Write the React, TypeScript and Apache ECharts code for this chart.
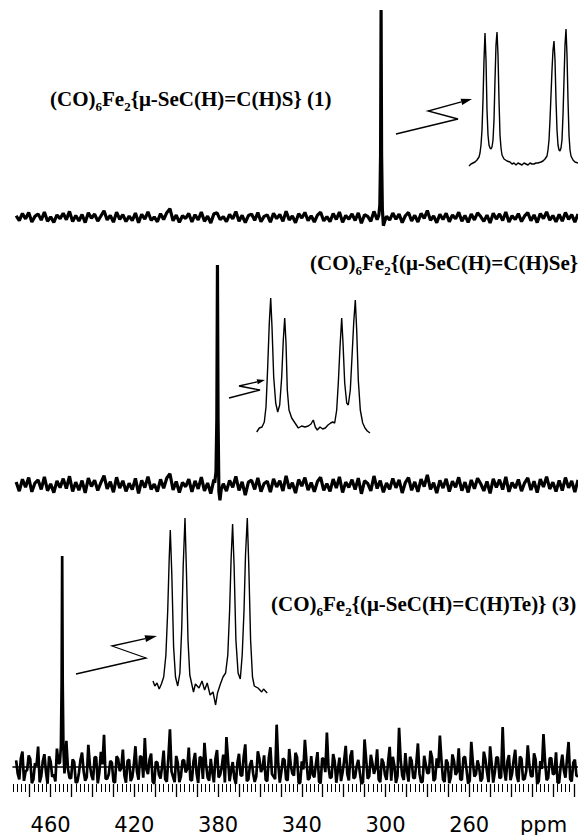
import React, { useEffect, useRef } from "react";
import * as echarts from "echarts";

// ppm axis
const ppmMin = 208;
const ppmMax = 478;
const tickLabels = [460, 420, 380, 340, 300, 260];
const axisUnit = "ppm";

// baseline sampling of the three spectra (ppm of first point, spacing)
const baseStart = 476.5;
const baseStep = 1.5;
const interleavedStart = 475.75;

// spectrum 1: (CO)6Fe2{μ-SeC(H)=C(H)S} – baseline noise (peak = 100)
const noise1 = [
  0.8, -1.6, 1.9, -0.7, 2.4, -2.2, 0.5, 1.7, -1.3, 2.6, -1.9, 0.3, -2.4, 1.2, -0.6, 2.0, -1.1, 2.9, -2.0, 0.9,
  -1.7, 1.4, -2.5, 2.2, -0.4, 1.6, -1.8, 0.7, 3.2, -1.2, 1.0, -2.3, 2.5, -0.9, 1.3, -2.0, 0.6, -1.5, 2.1, -2.6,
  1.5, -0.8, 2.7, -1.4, 0.2, -2.1, 1.8, -1.0, 2.3, 4.2, -1.6, 1.1, -2.4, 0.8, -0.5, 1.9, -2.2, 1.3, -1.2, 2.6,
  -1.9, 0.6, -2.7, 1.7, 2.2, -1.1, 0.4, -2.0, 1.5, -0.7, 2.8, -1.8, 1.0, -2.5, 0.9, 1.6, -1.4, 2.3, -2.1, 0.5,
  1.2, -2.3, 2.0, -0.6, 1.4, -1.9, 3.0, -1.2, 0.7, -2.6, 1.8, -0.3, 2.4, -1.6, 0.8, -2.2, 1.1, 2.5, -1.7, 0.4,
  -2.0, 1.9, -1.0, 2.6, -2.4, 0.9, -0.8, 1.7, -1.5, 2.2, -2.8, 1.3, 0.5, -1.9, 2.9, -1.1, 1.4, -2.3, 0.6, -1.3,
  2.1, -0.9, 1.6, -2.5, 0.8, 2.4, -1.7, 1.0, -2.2, 1.9, -0.5, 3.3, -1.4, 0.7, -2.6, 1.5, -1.0, 2.0, -2.1, 1.2,
  -0.7, 2.5, -1.8, 0.9, -2.4, 1.6, -1.2, 2.2, 0.4, -1.9, 1.1, -2.7, 2.0, -0.8, 1.7, -1.5, 2.6, -2.2, 0.8, -1.0,
  1.8, -2.0, 0.7, 2.3, -1.6, 1.2, -2.5, 1.9, -0.6, 2.7, -1.3, 0.9, -2.1, 1.5, -1.8, 2.4, -0.9, 1.3, -2.3, 1.6,
];
const peak1 = [
  [303.2, 1], [302.7, 6], [302.35, 30], [302.1, 100], [301.85, 30], [301.5, 4], [301.0, -4], [300.4, -2],
];

// spectrum 2: (CO)6Fe2{μ-SeC(H)=C(H)Se}
const noise2 = [
  1.4, -2.8, 2.6, -1.0, 3.4, -3.1, 0.9, 2.3, -2.0, 3.7, -2.6, 0.5, -3.5, 1.8, -1.2, 2.9, -1.6, 4.0, -2.9, 1.3,
  -2.4, 2.0, -3.6, 3.1, -0.7, 2.2, -2.5, 1.1, 4.3, -1.8, 1.5, -3.3, 3.5, -1.4, 1.9, -2.9, 0.8, -2.1, 3.0, -3.8,
  2.1, -1.2, 3.8, -2.0, 0.4, -3.0, 2.6, -1.5, 3.2, 5.1, -2.3, 1.6, -3.4, 1.2, -0.8, 2.7, -3.1, 1.9, -1.8, 3.6,
  -2.7, 0.9, -3.9, 2.4, 3.1, -1.6, 0.6, -2.8, 2.1, -1.1, 3.9, -2.5, 1.4, -4.6, 1.3, 2.2, -2.0, 3.2, -3.0, 0.7,
  1.7, -3.2, 2.8, -0.9, 2.0, -2.7, 4.2, -1.7, 1.0, -3.7, 2.5, -0.5, 3.4, -2.3, 1.1, -3.1, 1.6, 3.5, -2.4, 0.6,
  -2.9, 2.7, -1.4, 3.7, -3.4, 1.3, -1.1, 2.4, -2.1, 3.1, -4.0, 1.9, 0.7, -2.7, 4.1, -1.6, 2.0, -3.3, 0.9, -1.9,
  3.0, -1.3, 2.3, -3.6, 1.1, 3.4, -2.4, 1.4, -3.1, 2.7, -0.7, 4.6, -2.0, 1.0, -3.7, 2.1, -1.4, 2.8, -3.0, 1.7,
  -1.0, 3.5, -2.6, 1.3, -3.4, 2.3, -1.7, 3.1, 0.6, -2.7, 1.6, -3.8, 2.8, -1.1, 2.4, -2.1, 3.7, -3.1, 1.1, -1.4,
  2.5, -2.8, 1.0, 3.2, -2.3, 1.7, -3.5, 2.7, -0.9, 3.8, -1.8, 1.3, -3.0, 2.1, -2.5, 3.4, -1.3, 1.8, -3.2, 2.3,
];
const peak2 = [
  [381.6, 1], [381.0, 6], [380.6, 30], [380.3, 100], [380.0, 30], [379.6, -3], [379.1, -7], [378.5, -2],
];

// spectrum 3: (CO)6Fe2{μ-SeC(H)=C(H)Te} – two interleaved sets of baseline points
const noise3 = [
  3.2, -5.8, 7.4, -2.1, 5.5, -7.6, 1.8, 9.7, -4.3, 6.1, -7.9, 2.6, -3.5, 8.8, -6.2, 4.0, 12.4, -5.1, 3.7, -7.3,
  -2.8, 6.9, -6.5, 10.6, -3.9, 4.8, -7.7, 7.2, 15.3, -5.6, 2.9, -6.8, 5.1, -1.9, 8.3, -7.4, 3.5, -4.8, 9.9, -6.0,
  4.6, 13.8, -3.3, 6.4, -7.8, 2.2, -5.4, 7.8, -6.9, 17.9, -4.6, 5.3, -7.1, 3.1, -2.5, 9.2, -6.4, 6.7, -7.5, 4.4,
  11.5, -5.0, 3.9, -7.2, 8.1, -3.6, 5.9, 14.2, -6.7, 2.4, -7.9, 6.3, -4.1, 10.8, -5.8, 3.3, -7.0, 7.5, -2.3, 5.6,
  -6.6, 9.4, -4.4, 20.1, -7.3, 4.1, -5.7, 8.6, -3.0, 6.8, -7.6, 2.7, 12.9, -6.1, 5.2, -4.9, 7.1, -7.7, 3.8, 16.4,
  -5.2, 6.2, -7.4, 4.5, -2.6, 10.1, -6.3, 7.9, -4.7, 3.4, -7.8, 13.1, -5.5, 5.8, -3.2, 8.4, -7.1, 2.1, -6.0, 9.6,
  4.9, -7.5, 18.6, -4.0, 6.6, -6.9, 3.0, -5.3, 11.2, -7.2, 5.4, -2.9, 7.7, -6.5, 4.2, 14.9, -5.9, 3.6, -7.6, 6.0,
  -3.7, 8.9, -6.1, 5.0, -7.8, 12.0, -4.5, 3.2, -6.7, 7.3, -2.2, 9.8, -7.3, 4.7, -5.2, 19.0, -6.4, 5.7, -3.1, 8.2,
  -7.0, 3.9, -5.6, 10.3, -4.2, 6.5, -7.9, 2.8, 15.7, -6.2, 4.3, -3.4, 7.0, -7.4, 5.9, -5.0, 11.9, -6.8, 3.5, -4.6,
];
const noise3b = [
  -3.1, 4.2, -6.5, -1.4, 3.8, -5.9, 0.6, -7.2, 2.9, -2.3, 5.1, -4.6, -6.8, 1.7, -3.9, 4.9, -0.8, -5.3, 2.4, -7.0,
  3.5, -1.9, -4.8, 0.9, -6.2, 4.6, -2.7, 1.3, -5.5, -3.4, 2.1, -7.4, 4.0, -0.5, -4.1, 3.0, -6.6, 1.1, -2.2, 5.3,
  -5.0, -1.2, 3.7, -6.9, 2.5, -3.6, 0.4, -5.8, 4.4, -2.0, -7.1, 1.9, -4.4, 3.3, -0.9, -6.0, 2.7, -3.0, 4.8, -5.6,
  1.5, -6.4, -2.5, 4.1, -4.9, 0.2, -7.3, 3.6, -1.6, -5.2, 2.2, -3.8, 5.0, -6.7, 1.0, -2.9, -4.5, 3.9, -0.7, -6.1,
  4.5, -3.3, -5.7, 1.6, -2.1, 3.4, -6.3, 0.8, -4.0, 4.7, -7.5, -1.1, 2.8, -5.1, -3.5, 1.4, -6.9, 4.3, -2.4, 0.3,
  -4.7, 2.6, -1.5, -6.6, 3.1, -3.2, 5.2, -5.4, 0.5, -2.6, -7.2, 3.8, -4.3, 1.8, -0.6, -5.9, 4.0, -3.7, 2.3, -6.4,
  0.7, -4.2, 3.5, -6.1, -1.8, 4.9, -5.0, 2.0, -3.1, -6.8, 1.2, -2.8, 4.6, -5.5, -0.4, 3.2, -7.0, 1.9, -4.6, 2.9,
  -2.3, -5.8, 4.3, -1.3, -6.5, 2.4, -3.4, 0.1, -5.3, 3.7, -7.1, 1.5, -2.5, 4.5, -4.8, -1.0, 2.6, -6.2, 3.3, -3.9,
  5.0, -6.0, -2.0, 1.1, -4.5, 3.6, -6.7, -0.9, 2.7, -5.1, 4.2, -3.0, -7.4, 0.8, -1.7, 3.9, -5.6, 2.1, -4.0, -6.3,
];
const peak3 = [
  [455.6, 2], [455.1, 10], [454.75, 40], [454.5, 100], [454.25, 40], [453.9, 8], [453.4, -3],
];

// expanded insets (relative frequency, relative intensity)
const inset1 = [
  [0, 0], [2, 2], [4, 3], [6, 4], [8, 6], [10, 9], [11, 13], [12, 21], [13, 36], [14, 66], [15, 106], [16, 133],
  [17, 106], [18, 56], [19, 31], [20, 21], [21, 18], [22, 17], [23, 19], [24, 26], [25, 46], [26, 86], [27, 121],
  [28, 134], [29, 111], [30, 66], [31, 31], [32, 18], [33, 11], [35, 7], [38, 5], [41, 4], [43, 2], [45, 3],
  [47, 1], [49, 3], [51, 2], [53, 1], [55, 3], [57, 2], [59, 1], [61, 3], [63, 2], [65, 2], [67, 3], [69, 3],
  [72, 4], [74, 5], [76, 7], [78, 10], [79, 16], [80, 26], [81, 46], [82, 71], [83, 96], [84, 116], [85, 125],
  [86, 106], [87, 66], [88, 36], [89, 21], [90, 16], [91, 15], [92, 18], [93, 26], [94, 51], [95, 86], [96, 121],
  [97, 137], [98, 111], [99, 66], [100, 31], [101, 16], [102, 10], [104, 6], [106, 4], [109, 3],
];
const inset2 = [
  [0, 1], [2.6, 5], [5.3, 6], [7.6, 11], [9.3, 26], [11, 66], [12.6, 110], [14, 135], [15.3, 106], [17, 56],
  [19, 30], [21, 21], [23, 28], [25, 56], [26.6, 93], [28, 115], [29.3, 90], [30.6, 43], [32.3, 23], [35, 15],
  [38.3, 10], [41.6, 5], [45, 7], [48.3, 6], [51.6, 7], [54.3, 9], [56.6, 13], [58.6, 6], [60.6, 3], [63.3, 6],
  [66, 4], [68.6, 5], [71.3, 8], [74, 10], [76, 11], [78, 10], [80, 23], [81.6, 50], [83.3, 86], [85, 115],
  [86.3, 90], [88, 50], [90, 30], [91.6, 28], [93.6, 43], [95.3, 76], [97, 110], [98.6, 133], [100, 103],
  [101.6, 53], [103.6, 23], [106, 10], [108.3, 5], [110.6, 2], [113.3, 0],
];
const inset3 = [
  [0, 24], [1.8, 19], [4, 22], [6.2, 16], [8.4, 21], [10.7, 28], [12.9, 50], [14.7, 94], [16.2, 146],
  [17.3, 175], [18.8, 131], [20.6, 58], [22.5, 28], [24.7, 19], [26.9, 32], [28.7, 76], [30.2, 139], [32, 187],
  [33.5, 131], [35, 65], [36.8, 30], [40.5, 13], [42.4, 21], [46, 17], [49, 24], [51.6, 15], [54.2, 22],
  [57.1, 10], [60, 13], [62.6, 0], [64.5, 12], [67.4, 21], [70, 28], [72.6, 32], [74.8, 50], [76.6, 94],
  [78.1, 146], [79.6, 181], [81.1, 139], [82.9, 65], [85.1, 32], [87.3, 26], [89.2, 50], [91, 94], [92.5, 150],
  [94.3, 187], [95.8, 139], [97.6, 65], [99.5, 28], [101.3, 19], [105, 17], [108.7, 13], [110.5, 16], [114.2, 12],
];

const compoundLabels = [
  "(CO){s|6}Fe{s|2}{μ-SeC(H)=C(H)S} (1)",
  "(CO){s|6}Fe{s|2}{(μ-SeC(H)=C(H)Se}",
  "(CO){s|6}Fe{s|2}{(μ-SeC(H)=C(H)Te)} (3)",
];

function buildSpectrum(sets: { start: number; values: number[] }[], peak: number[][]) {
  const lo = Math.min(...peak.map((p) => p[0]));
  const hi = Math.max(...peak.map((p) => p[0]));
  const pts: number[][] = [];
  sets.forEach((s) => {
    s.values.forEach((v, i) => {
      const x = s.start - i * baseStep;
      if (x >= ppmMin && (x < lo - 0.3 || x > hi + 0.3)) pts.push([x, v]);
    });
  });
  return [...pts, ...peak].sort((a, b) => b[0] - a[0]);
}

function arrow(pts: number[][], head: number, half: number) {
  const n = pts.length;
  const tip = pts[n - 1];
  const prev = pts[n - 2];
  const dx = tip[0] - prev[0];
  const dy = tip[1] - prev[1];
  const len = Math.sqrt(dx * dx + dy * dy);
  const ux = dx / len;
  const uy = dy / len;
  const bx = tip[0] - ux * head;
  const by = tip[1] - uy * head;
  const shaft = pts.slice(0, n - 1).concat([[bx, by]]);
  return [
    { type: "polyline", shape: { points: shaft }, style: { stroke: "#000", lineWidth: 1.3, fill: null }, silent: true },
    {
      type: "polygon",
      shape: {
        points: [tip, [bx - uy * half, by + ux * half], [bx + uy * half, by - ux * half]],
      },
      style: { fill: "#000" },
      silent: true,
    },
  ];
}

const majorTicks: number[] = [];
for (let v = 210; v <= 470; v += 10) majorTicks.push(v);

export default function App() {
  const ref = useRef<HTMLDivElement>(null);
  useEffect(() => {
    document.body.style.margin = "0";
    if (!ref.current) return;
    const chart = echarts.init(ref.current, null, { renderer: "svg" });
    const hiddenX = (gi: number) => ({
      type: "value", gridIndex: gi, min: ppmMin, max: ppmMax, inverse: true, show: false,
    });
    const hiddenY = (gi: number, min: number, max: number) => ({
      type: "value", gridIndex: gi, min, max, show: false,
    });
    const insetX = (gi: number, max: number) => ({
      type: "value", gridIndex: gi, min: 0, max, show: false,
    });
    const lineS = (data: number[][], xi: number, yi: number, w: number) => ({
      type: "line", data, xAxisIndex: xi, yAxisIndex: yi, showSymbol: false, symbol: "none",
      clip: false, silent: true, lineStyle: { color: "#000", width: w }, z: 2,
    });
    const serif = "'Liberation Serif', 'Times New Roman', serif";
    const labelFont = {
      fill: "#000", fontSize: 21, fontWeight: "bold", fontFamily: serif,
      rich: {
        s: { fontSize: 13, fontWeight: "bold", fontFamily: serif, verticalAlign: "bottom", lineHeight: 28 },
      },
    };
    const option: any = {
      animation: false,
      backgroundColor: "#fff",
      grid: [
        { left: 13, right: 0, top: 10, height: 224 },
        { left: 13, right: 0, top: 265, height: 237.6 },
        { left: 13, right: 0, top: 556, bottom: 51 },
        { left: 469, right: 0, top: 26, height: 140 },
        { left: 256.7, width: 113.3, top: 293, height: 140 },
        { left: 153, width: 114.2, top: 515, height: 190 },
      ],
      xAxis: [
        hiddenX(0),
        hiddenX(1),
        {
          type: "value", gridIndex: 2, min: ppmMin, max: ppmMax, inverse: true, position: "bottom",
          axisLine: { show: true, lineStyle: { color: "#000", width: 1.6 } },
          axisTick: { show: false },
          axisLabel: {
            show: true, customValues: tickLabels, margin: 30, color: "#000", fontSize: 21,
            fontFamily: "'DejaVu Sans', sans-serif",
          },
          splitLine: { show: false },
        },
        {
          type: "value", gridIndex: 2, min: ppmMin, max: ppmMax, inverse: true, position: "bottom",
          axisLine: { show: false },
          axisTick: { show: true, customValues: majorTicks, length: 13, lineStyle: { color: "#000", width: 1.3 } },
          axisLabel: { show: false },
          splitLine: { show: false },
        },
        insetX(3, 109),
        insetX(4, 113.3),
        insetX(5, 114.2),
        {
          type: "value", gridIndex: 2, min: ppmMin, max: ppmMax, interval: 2, inverse: true, position: "bottom",
          axisLine: { show: false },
          axisTick: { show: true, length: 8, lineStyle: { color: "#000", width: 1 } },
          axisLabel: { show: false },
          splitLine: { show: false },
        },
      ],
      yAxis: [
        hiddenY(0, -8, 100),
        hiddenY(1, -8, 100),
        hiddenY(2, -8, 100),
        hiddenY(3, 0, 140),
        hiddenY(4, 0, 140),
        hiddenY(5, 0, 190),
      ],
      series: [
        lineS(buildSpectrum([{ start: baseStart, values: noise1 }], peak1), 0, 0, 3.2),
        lineS(buildSpectrum([{ start: baseStart, values: noise2 }], peak2), 1, 1, 3.2),
        lineS(
          buildSpectrum(
            [
              { start: baseStart, values: noise3 },
              { start: interleavedStart, values: noise3b },
            ],
            peak3,
          ),
          2, 2, 2.7,
        ),
        lineS(inset1, 4, 3, 1.4),
        lineS(inset2, 5, 4, 1.4),
        lineS(inset3, 6, 5, 1.4),
      ],
      graphic: [
        { type: "text", left: 50, top: 88, style: { text: compoundLabels[0], ...labelFont }, silent: true },
        { type: "text", left: 310, top: 252, style: { text: compoundLabels[1], ...labelFont }, silent: true },
        { type: "text", left: 271, top: 593, style: { text: compoundLabels[2], ...labelFont }, silent: true },
        {
          type: "text", left: 520, top: 814,
          style: { text: axisUnit, fill: "#000", fontSize: 21, fontFamily: "'DejaVu Sans', sans-serif" },
          silent: true,
        },
        ...arrow([[396, 134], [458, 119], [428, 111], [472, 99]], 11, 3.2),
        ...arrow([[229, 398], [260, 390], [239, 386], [265, 380]], 8, 2.5),
        ...arrow([[76, 674], [146, 658], [112, 646], [157, 636]], 12, 3.4),
      ],
    };
    chart.setOption(option);
    return () => chart.dispose();
  }, []);
  return <div ref={ref} style={{ width: 578, height: 835 }} />;
}
